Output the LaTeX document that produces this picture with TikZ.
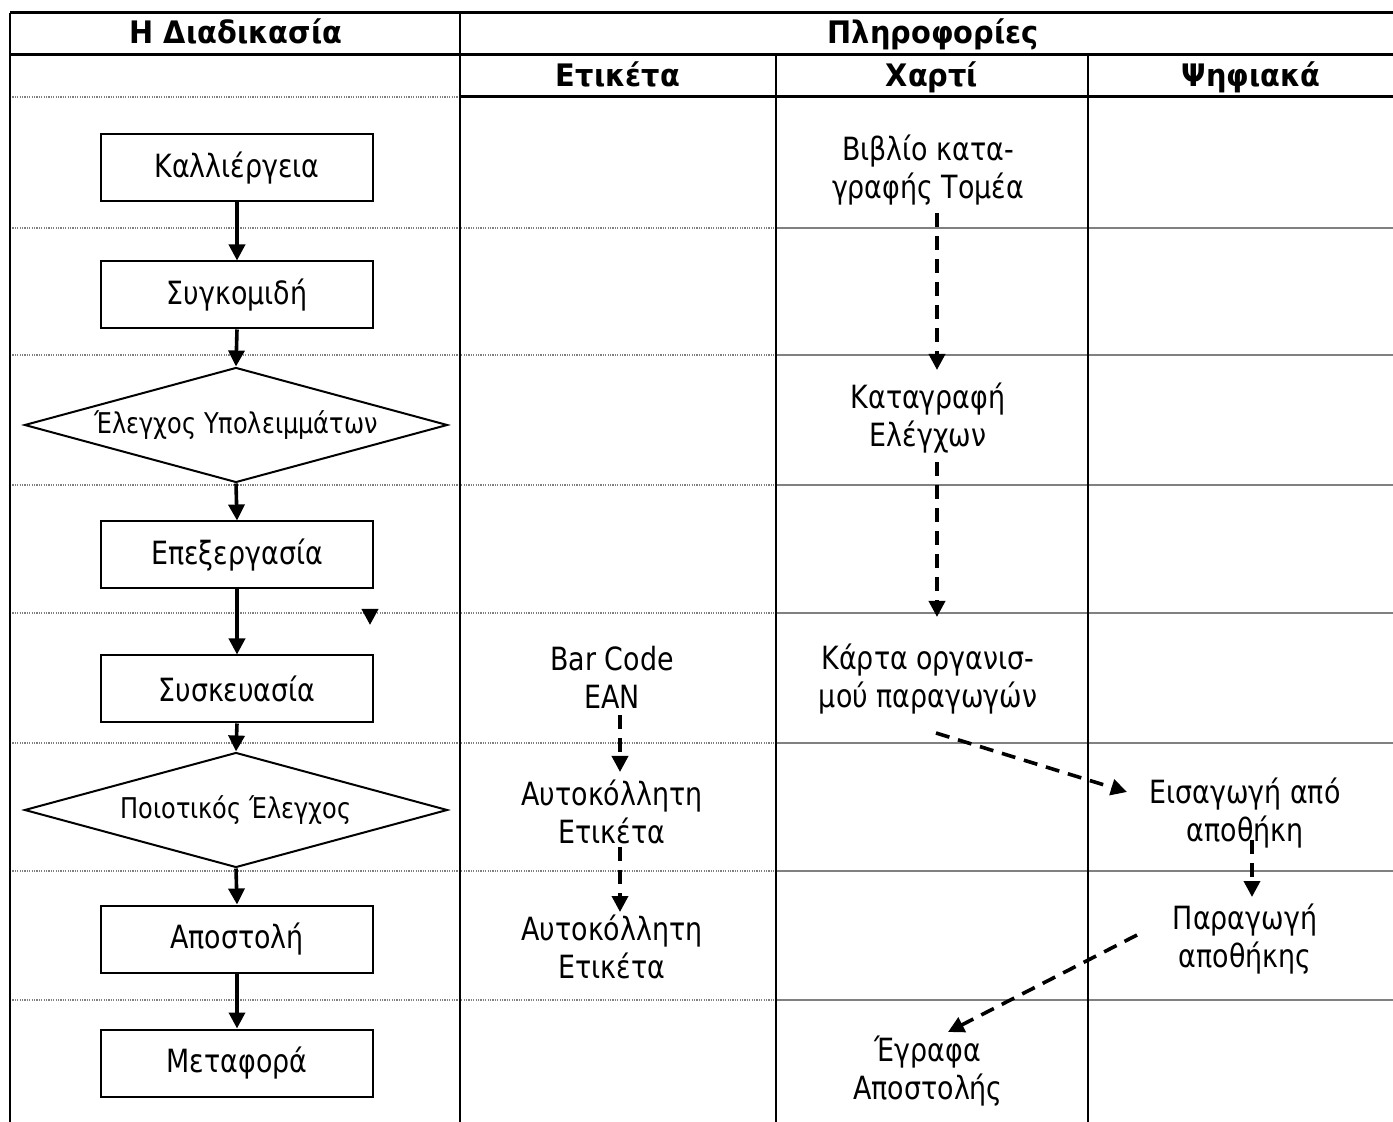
\documentclass[tikz,border=0pt]{standalone}
\usepackage{fontspec}
\setmainfont{DejaVu Sans}[FakeStretch=0.84]
\newfontfamily\hdrfont{DejaVu Sans}[FakeStretch=0.93]
\usetikzlibrary{shapes.geometric,arrows.meta,calc}
\begin{document}
\begin{tikzpicture}[x=0.5pt,y=-0.5pt,
  proc/.style={draw, line width=1pt, minimum width=136pt, minimum height=33.5pt, inner sep=0pt, font=\fontsize{16}{19}\selectfont},
  dec/.style={draw, diamond, line width=1pt, minimum width=211.5pt, minimum height=57.5pt, inner sep=0pt, font=\fontsize{14.3}{17}\selectfont},
  info/.style={fill=white, minimum width=136pt, minimum height=45pt, inner sep=0pt, align=center, font=\fontsize{16}{19}\selectfont},
  hdr/.style={anchor=base, inner sep=0pt, font=\hdrfont\bfseries\fontsize{15.5}{18}\selectfont},
  flow/.style={line width=1.8pt, -{Triangle[length=8pt,width=8pt]}},
  dflow/.style={flow, dash pattern=on 7pt off 4.5pt},
  thickrule/.style={line width=1.5pt},
  colrule/.style={line width=1.1pt},
  dotrule/.style={line width=0.7pt, gray, dash pattern=on 0.6pt off 0.6pt},
  graysolid/.style={line width=0.8pt, black!50}
]
\fill[white] (0,0) rectangle (1393,1122);
\useasboundingbox (0,0) rectangle (1393,1122);

% table rules
\draw[thickrule] (10,13) -- (1393,13);
\draw[thickrule] (10,55) -- (1393,55);
\draw[thickrule] (460,97) -- (1393,97);
\draw[dotrule] (10,97) -- (460,97);
\foreach \yy in {228,355,485,613,743,871,1000}{
  \draw[dotrule] (10,\yy) -- (776,\yy);
  \draw[graysolid] (776,\yy) -- (1393,\yy);
}
\draw[colrule] (10,13) -- (10,1122);
\draw[colrule] (460,13) -- (460,1122);
\draw[colrule] (776,55) -- (776,1122);
\draw[colrule] (1088,55) -- (1088,1122);

% headers
\node[hdr] (h1) at (236,44) {Η Διαδικασία};
\node[hdr] (h2) at (933,44) {Πληροφορίες};
\node[hdr] (h3) at (618,87) {Ετικέτα};
\node[hdr] (h4) at (932,87) {Χαρτί};
\node[hdr] (h5) at (1251,87) {Ψηφιακά};

% process column
\node[proc] (k1) at (237,168) {Καλλιέργεια};
\node[proc] (k2) at (237,295) {Συγκομιδή};
\node[dec]  (d1) at (236,425) {\makebox[0pt]{Έλεγχος Υπολειμμάτων}};
\node[proc] (k3) at (237,555) {Επεξεργασία};
\node[proc] (k4) at (237,689) {Συσκευασία};
\node[dec]  (d2) at (236,810) {\makebox[0pt]{Ποιοτικός Έλεγχος}};
\node[proc] (k5) at (237,939) {Αποστολή};
\node[proc] (k6) at (237,1063) {Μεταφορά};

\draw[flow] (k1.south) -- (k2.north);
\draw[flow] (k2.south) -- (d1.north);
\draw[flow] (d1.south) -- (k3.north);
\draw[flow] (k3.south) -- (k4.north);
\draw[flow] (k4.south) -- (d2.north);
\draw[flow] (d2.south) -- (k5.north);
\draw[flow] (k5.south) -- (k6.north);

\coordinate (s1) at (370,609);
\coordinate (s2) at (370,625);
\draw[flow] (s1) -- (s2);

% information nodes
\node[info] (b1) at (928,170) {Βιβλίο κατα-\\γραφής Τομέα};
\node[info] (b2) at (928,418) {Καταγραφή\\Ελέγχων};
\node[info] (b3) at (928,679) {Κάρτα οργανισ-\\μού παραγωγών};
\node[info] (bar) at (612,677) {Bar Code\\EAN};
\node[info] (a1) at (612,812) {Αυτοκόλλητη\\Ετικέτα};
\node[info] (a2) at (612,947) {Αυτοκόλλητη\\Ετικέτα};
\node[info] (e1) at (1245,813) {Εισαγωγή από\\αποθήκη};
\node[info] (e2) at (1245,939) {Παραγωγή\\αποθήκης};
\node[info] (g)  at (928,1071) {Έγραφα\\Αποστολής};

% dashed information flow
\draw[dflow] ($(b1.center)+(9,43)$) -- ($(b2.center)+(9,-48)$);
\draw[dflow] ($(b2.center)+(9,44)$) -- ($(b3.center)+(9,-62)$);
\draw[dflow] ($(bar.center)+(8,38)$) -- ($(a1.center)+(8,-40)$);
\draw[dflow] ($(a1.center)+(8,35)$) -- ($(a2.center)+(8,-35)$);
\draw[dflow] ($(b3.center)+(8,54)$) -- ($(e1.center)+(-118,-21)$);
\draw[dflow] ($(e1.center)+(7,27)$) -- ($(e2.center)+(7,-42)$);
\draw[dflow] ($(e2.center)+(-108,-4)$) -- ($(g.center)+(20,-39)$);
\end{tikzpicture}
\end{document}
